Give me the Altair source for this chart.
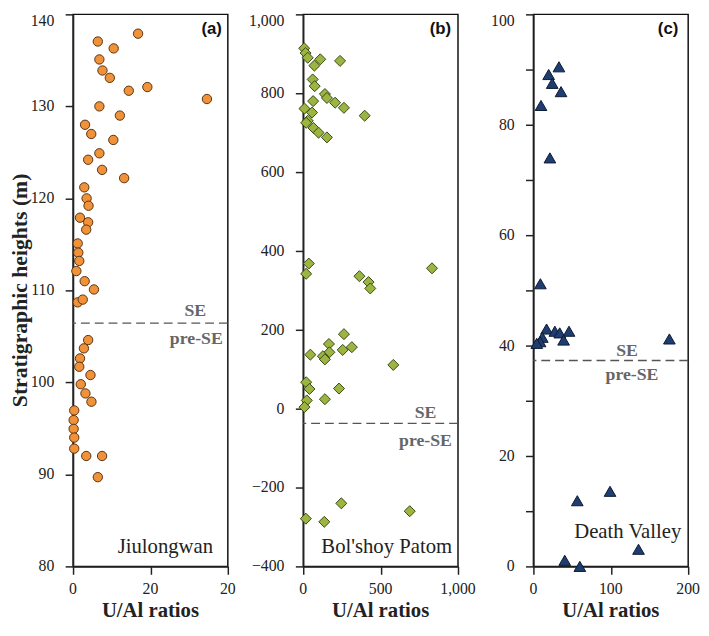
import altair as alt
import pandas as pd

# Panel (a) Jiulongwan
a_x = [16.8, 6.4, 10.5, 6.8, 7.6, 9.5, 14.4, 19.2, 34.6, 6.8, 12.1, 3.1, 4.7, 10.4, 6.8, 3.9,
       7.5, 13.2, 2.9, 3.5, 4.0, 1.8, 3.9, 3.4, 1.2, 1.35, 1.6, 0.85, 3.0, 5.4, 1.2, 2.5,
       3.9, 2.8, 1.8, 1.6, 4.5, 2.0, 3.2, 4.75, 0.3, 0.15, 0.15, 0.3, 0.3, 3.4, 7.5, 6.4]
a_y = [137.9, 137.05, 136.3, 135.1, 133.9, 133.1, 131.7, 132.1, 130.8, 130.0, 129.0, 128.0,
       127.0, 126.35, 124.9, 124.2, 123.1, 122.2, 121.2, 120.0, 119.2, 117.9, 117.4, 116.6,
       115.1, 114.1, 113.2, 112.1, 111.0, 110.1, 108.7, 109.0,
       104.6, 103.7, 102.6, 101.7, 100.8, 99.8, 98.8, 97.9, 96.95, 95.9, 94.95, 94.0, 92.8,
       92.0, 92.0, 89.7]
a_xticks = [0, 10, 20, 30, 40]
a_xlab_vals = [0, 20, 40]
a_xlab_text = ["0", "20", "20"]
a_yticks = [80, 90, 100, 110, 120, 130, 140]
a_ylab_text = ["80", "90", "100", "110", "120", "130", "140"]

# Panel (b) Bol'shoy Patom
b_x = [6, 15, 29, 72, 110, 238, 61, 74, 140, 153, 64, 206, 263, 8, 57, 397, 29, 19, 66, 99,
       153, 36, 19, 363, 422, 433, 832,
       263, 166, 46, 314, 255, 169, 127, 140, 582, 19, 40, 231, 23, 140, 8, 246, 688, 17, 136]
b_y = [914, 902, 890, 870, 886, 882, 835, 818, 798, 788, 780, 776, 763, 761, 751, 743, 730,
       725, 712, 700, 688, 368, 342, 336, 321, 305, 356,
       189, 164, 137, 156, 149, 143, 133, 125, 111, 67, 50, 51, 21, 24, 4, -240, -260, -279, -287]
b_xticks = [0, 250, 500, 750, 1000]
b_xlab_vals = [0, 500, 1000]
b_xlab_text = ["0", "500", "1,000"]
b_yticks = [-400, -200, 0, 200, 400, 600, 800, 1000]
b_ylab_text = ["\u2212400", "\u2212200", "0", "200", "400", "600", "800", "1,000"]

# Panel (c) Death Valley
c_x = [33, 19.7, 24.3, 35.7, 9.8, 21.3, 9, 17, 27.7, 34, 46, 11.5, 8.6, 4.3, 39, 175.7,
       56.7, 99, 135.8, 40.5, 60]
c_y = [90.5, 89.1, 87.5, 86.0, 83.5, 74.0, 51.2, 43.0, 42.6, 42.3, 42.6, 41.5, 40.7, 40.4,
       41.0, 41.2, 11.9, 13.6, 3.1, 1.1, 0.0]
c_xticks = [0, 50, 100, 150, 200]
c_xlab_vals = [0, 100, 200]
c_xlab_text = ["0", "100", "200"]
c_yticks = [0, 10, 20, 30, 40, 50, 60, 70, 80, 90, 100]
c_ylab_vals = [0, 20, 40, 60, 80, 100]
c_ylab_text = ["0", "20", "40", "60", "80", "100"]

se_levels = [106.45, -37, 37.3]
sites = ["Jiulongwan", "Bol'shoy Patom", "Death Valley"]
tags = ["(a)", "(b)", "(c)"]
x_title = "U/Al ratios"
y_title = "Stratigraphic heights (m)"

W, H = 157, 560
SERIF = "Liberation Serif"
INK = "#222222"


def panel(xs, ys, shape, fill, stroke, size, xdom, xticks, xlv, xlt, ydom, yticks, ylv, ylt,
          se, se_x, pre_x, se_dy, pre_dy, site, site_x, site_y, tag, tag_x, ytitle):
    df = pd.DataFrame({"x": xs, "y": ys})
    xs_ = alt.Scale(domain=xdom, nice=False, zero=False)
    ys_ = alt.Scale(domain=ydom, nice=False, zero=False)
    xax = alt.Axis(values=xticks, labels=False, title=None)
    yax = alt.Axis(values=yticks, labels=False, title=None)
    pts = alt.Chart(df).mark_point(shape=shape, filled=True, fill=fill, stroke=stroke,
                                   strokeWidth=1, size=size, opacity=1).encode(
        x=alt.X("x:Q", scale=xs_, axis=xax),
        y=alt.Y("y:Q", scale=ys_, axis=yax),
    )
    rule = alt.Chart(pd.DataFrame({"v": [se]})).mark_rule(
        color="#555555", strokeDash=[9, 5], strokeWidth=1.3).encode(y="v:Q")
    se_t = alt.Chart(pd.DataFrame({"t": ["SE"], "v": [se]})).mark_text(
        font=SERIF, fontWeight="bold", fontSize=18, color="#666666", align="center",
        baseline="middle", dy=se_dy).encode(x=alt.value(se_x), y="v:Q", text="t:N")
    pre_t = alt.Chart(pd.DataFrame({"t": ["pre-SE"], "v": [se]})).mark_text(
        font=SERIF, fontWeight="bold", fontSize=18, color="#666666", align="center",
        baseline="middle", dy=pre_dy).encode(x=alt.value(pre_x), y="v:Q", text="t:N")
    site_t = alt.Chart(pd.DataFrame({"t": [site]})).mark_text(
        font=SERIF, fontSize=21, color=INK, align="right", baseline="alphabetic").encode(
        x=alt.value(site_x), y=alt.value(site_y), text="t:N")
    tag_t = alt.Chart(pd.DataFrame({"t": [tag]})).mark_text(
        font="Liberation Sans", fontWeight="bold", fontSize=17, color="#111111", align="right",
        baseline="alphabetic").encode(x=alt.value(tag_x), y=alt.value(20), text="t:N")
    # tick labels drawn as text through the panel's scales
    xl = alt.Chart(pd.DataFrame({"v": xlv, "t": xlt})).mark_text(
        font=SERIF, fontSize=16, color=INK, align="center", baseline="alphabetic").encode(
        x="v:Q", y=alt.value(H + 28), text="t:N")
    ydf = pd.DataFrame({"v": ylv, "t": ylt})
    top = ydom[1]
    yl = alt.Chart(ydf[ydf.v != top]).mark_text(
        font=SERIF, fontSize=16, color=INK, align="right", baseline="middle").encode(
        x=alt.value(-19), y="v:Q", text="t:N")
    yl_top = alt.Chart(ydf[ydf.v == top]).mark_text(
        font=SERIF, fontSize=16, color=INK, align="right", baseline="top", dy=-1).encode(
        x=alt.value(-19), y="v:Q", text="t:N")
    xt = alt.Chart(pd.DataFrame({"t": [x_title]})).mark_text(
        font=SERIF, fontSize=21, fontWeight="bold", color=INK, align="center",
        baseline="alphabetic").encode(x=alt.value(W / 2), y=alt.value(H + 51), text="t:N")
    layers = [rule, pts, se_t, pre_t, site_t, tag_t, xl, yl, yl_top, xt]
    if ytitle:
        yt = alt.Chart(pd.DataFrame({"t": [ytitle]})).mark_text(
            font=SERIF, fontSize=22, fontWeight="bold", color=INK, align="center",
            baseline="middle", angle=270).encode(
            x=alt.value(-54), y=alt.value(H / 2), text="t:N")
        layers.append(yt)
    return alt.layer(*layers).properties(width=W, height=H)


pa = panel(a_x, a_y, "circle", "#F0923A", "#5A3210", 90,
           [0, 40], a_xticks, a_xlab_vals, a_xlab_text,
           [80, 140], a_yticks, a_yticks, a_ylab_text,
           se_levels[0], 124, 125, -12.5, 16, sites[0], 142, H - 14, tags[0], 151, y_title)
pb = panel(b_x, b_y, "diamond", "#9BB540", "#3A4716", 125,
           [0, 1000], b_xticks, b_xlab_vals, b_xlab_text,
           [-400, 1000], b_yticks, b_yticks, b_ylab_text,
           se_levels[1], 124, 124, -10.5, 18, sites[1], 151, H - 14, tags[1], 150, None)
pc = panel(c_x, c_y, "triangle-up", "#1F3D70", "#0B1A33", 140,
           [0, 200], c_xticks, c_xlab_vals, c_xlab_text,
           [0, 100], c_yticks, c_ylab_vals, c_ylab_text,
           se_levels[2], 95, 100, -9.5, 15, sites[2], 150, H - 29, tags[2], 147, None)

chart = alt.hconcat(pa, pb, pc, spacing=76.5, bounds="flush").properties(
    padding={"left": 0, "top": 0, "right": 0, "bottom": 0}
).configure_view(
    stroke="#111111", strokeWidth=1.5
).configure_axis(
    grid=False, domainColor=INK, domainWidth=1.5, tickColor=INK, tickWidth=1.5,
    tickSize=8
)

chart.save("out.html", embed_options={"renderer": "svg", "actions": False})
